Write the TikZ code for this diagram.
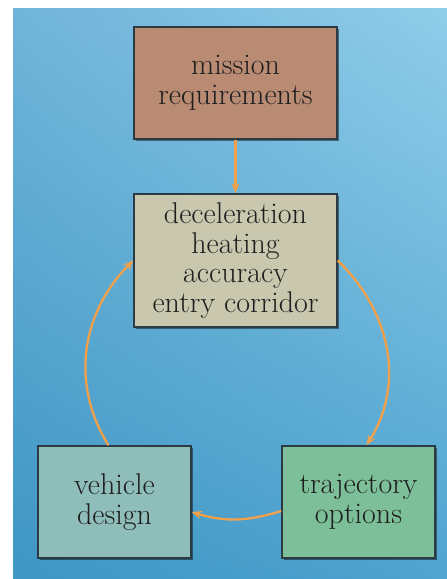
\documentclass[tikz,border=0pt]{standalone}
\usetikzlibrary{arrows.meta,shadows,shadings}
\definecolor{bgLL}{HTML}{3E96C3}
\definecolor{bgLR}{HTML}{4FA4D0}
\definecolor{bgUL}{HTML}{70B4D9}
\definecolor{bgUR}{HTML}{90CDE9}
\definecolor{cMission}{HTML}{B98B73}
\definecolor{cMid}{HTML}{C9C8AF}
\definecolor{cVeh}{HTML}{8FBDBA}
\definecolor{cTraj}{HTML}{7DBF98}
\definecolor{cArrow}{HTML}{F2A04A}
\definecolor{cBorder}{HTML}{2C3A44}
\definecolor{cText}{HTML}{1E1E1E}
\tikzset{
  boxnode/.style={draw=cBorder, line width=1.4pt, align=center, inner sep=0pt,
    text=cText, font=\rmfamily\fontsize{30}{29.5}\selectfont,
    drop shadow={shadow xshift=1.5pt, shadow yshift=-2pt, fill=black, opacity=0.45}},
  flow/.style={draw=cArrow, line width=2.3pt, -{Stealth[length=10pt,width=8pt]}}
}
\begin{document}
\begin{tikzpicture}[x=1pt,y=1pt]
\useasboundingbox (0,0) rectangle (447,579);
\fill[white] (0,0) rectangle (447,579);
\shade[lower left=bgLL, lower right=bgLR, upper left=bgUL, upper right=bgUR] (13,0) rectangle (447,570);
\node[boxnode, fill=cMission, minimum width=203pt, minimum height=112pt] (mission) at (235.5,496) {mission\\requirements};
\node[boxnode, fill=cMid, minimum width=203pt, minimum height=133pt] (mid) at (235.5,318.5) {deceleration\\heating\\accuracy\\entry corridor};
\node[boxnode, fill=cVeh, minimum width=153pt, minimum height=112pt] (veh) at (114.5,77) {vehicle\\design};
\node[boxnode, fill=cTraj, minimum width=153pt, minimum height=112pt] (traj) at (358.5,77) {trajectory\\options};
\draw[flow] (mission.south) -- (mid.north);
\draw[flow] (mid.east) to[out=-44, in=58] ([xshift=8pt]traj.north);
\draw[flow] ([yshift=-9pt]traj.west) to[out=-163, in=-17] ([yshift=-10pt]veh.east);
\draw[flow] ([xshift=-6pt]veh.north) to[out=122, in=225] (mid.west);
\end{tikzpicture}
\end{document}
